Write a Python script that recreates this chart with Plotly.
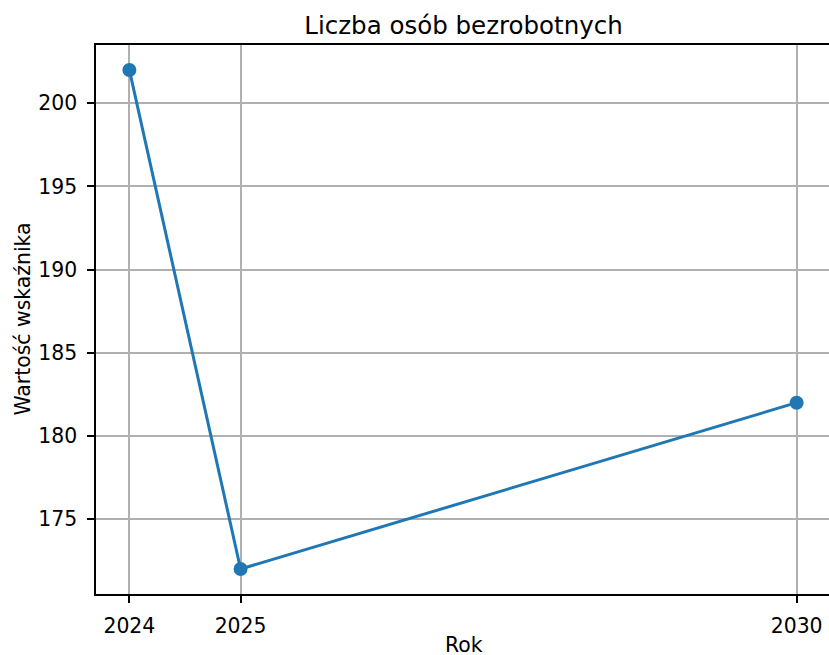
import plotly.graph_objects as go

years = [2024, 2025, 2030]
values = [202, 172, 182]
x_ticks = [2024, 2025, 2030]
y_ticks = [175, 180, 185, 190, 195, 200]

W, H = 833, 655
ml, mr, mt, mb = 96, 0, 45, 61
pw = W - ml - mr
ph = H - mt - mb
x0, x1 = 2023.7, 2023.7 + 6.6 * pw / 734.0

font = "DejaVu Sans"
fig = go.Figure()
fig.add_trace(go.Scatter(
    x=years, y=values, mode="lines+markers",
    line=dict(color="#1f77b4", width=3),
    marker=dict(color="#1f77b4", size=14),
    showlegend=False,
))

fig.update_layout(
    width=W, height=H,
    margin=dict(l=ml, r=mr, t=mt, b=mb, pad=0),
    paper_bgcolor="white", plot_bgcolor="white",
    font=dict(family=font, size=20.4, color="black"),
    title=dict(text="Liczba osób bezrobotnych", x=463.5 / W, xanchor="center",
               y=1 - 25 / H, yanchor="middle", yref="container",
               font=dict(size=24.5, family=font, color="black")),
    annotations=[
        dict(text="Rok", xref="paper", yref="paper", x=(463.5 - ml) / pw, y=-51 / ph,
             xanchor="center", yanchor="middle", showarrow=False,
             font=dict(size=20.4, family=font, color="black")),
        dict(text="Wartość wskaźnika", xref="paper", yref="paper", x=-74 / pw, y=0.5,
             xanchor="center", yanchor="middle", textangle=-90, showarrow=False,
             font=dict(size=20.4, family=font, color="black")),
    ],
)

fig.update_xaxes(
    range=[x0, x1], tickmode="array", tickvals=x_ticks,
    ticktext=[str(t) for t in x_ticks],
    showgrid=True, gridcolor="#b0b0b0", gridwidth=1.6,
    showline=True, linecolor="black", linewidth=1.6, mirror=True,
    ticks="outside", ticklen=7, tickwidth=1.6, tickcolor="black",
    ticklabelstandoff=6, zeroline=False,
)
fig.update_yaxes(
    range=[170.5, 203.5], tickmode="array", tickvals=y_ticks,
    ticktext=[str(t) for t in y_ticks],
    showgrid=True, gridcolor="#b0b0b0", gridwidth=1.6,
    showline=True, linecolor="black", linewidth=1.6, mirror=False,
    ticks="outside", ticklen=7, tickwidth=1.6, tickcolor="black",
    ticklabelstandoff=6, zeroline=False,
)

fig.write_html("out.html", config={"displayModeBar": False})

with open("out.html", "r", encoding="utf-8") as f:
    html = f.read()
html = html.replace("<head>", "<head><style>html,body{margin:0;padding:0;overflow:hidden;}</style>", 1)
with open("out.html", "w", encoding="utf-8") as f:
    f.write(html)
